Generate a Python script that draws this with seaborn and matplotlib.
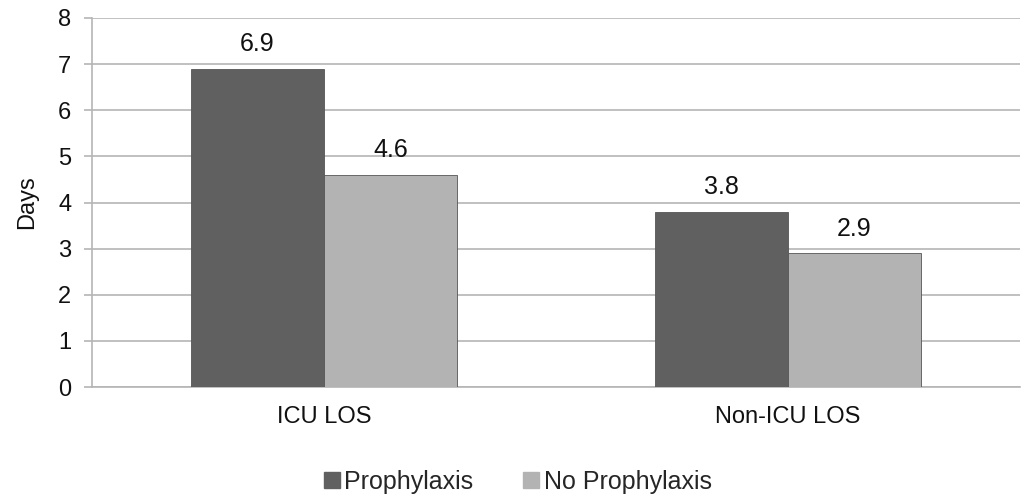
import matplotlib
matplotlib.use("Agg")
import matplotlib.pyplot as plt
import seaborn as sns
import pandas as pd
from matplotlib.lines import Line2D

categories = ["ICU LOS", "Non-ICU LOS"]
series_names = ["Prophylaxis", "No Prophylaxis"]
prophylaxis = [6.9, 3.8]
no_prophylaxis = [4.6, 2.9]
y_ticks = [0, 1, 2, 3, 4, 5, 6, 7, 8]
colors = ["#606060", "#b3b3b3"]

df = pd.DataFrame({
    "Category": categories * 2,
    "Series": [series_names[0]] * 2 + [series_names[1]] * 2,
    "Days": prophylaxis + no_prophylaxis,
})

sns.set_theme(style="white")
plt.rcParams["font.family"] = ["Liberation Sans", "DejaVu Sans"]

fig = plt.figure(figsize=(10.31, 4.97), dpi=100)
ax = fig.add_axes([0.0892, 0.2213, 0.8998, 0.7425])

sns.barplot(data=df, x="Category", y="Days", hue="Series", order=categories,
            hue_order=series_names, palette=colors, width=0.574, ax=ax,
            edgecolor="#555555", linewidth=0.6, legend=False, zorder=3)

for c in ax.containers:
    ax.bar_label(c, labels=[f"{v:.1f}" for v in c.datavalues], padding=9,
                 fontsize=18, color="#111111")

ax.set_xlim(-0.5, 1.5)
ax.set_ylim(0, 8)
ax.set_yticks(y_ticks)
ax.yaxis.grid(True, color="#b5b5b5", linewidth=1.2, zorder=0)
ax.set_axisbelow(True)
ax.tick_params(axis="y", left=True, length=6, width=1.2, color="#b5b5b5",
               labelsize=17, pad=9, labelcolor="#111111")
ax.tick_params(axis="x", bottom=False, labelsize=17, pad=8, labelcolor="#111111")
for s in ["top", "right"]:
    ax.spines[s].set_visible(False)
for s in ["left", "bottom"]:
    ax.spines[s].set_color("#b5b5b5")
    ax.spines[s].set_linewidth(1.2)
ax.set_xlabel("")
ax.set_ylabel("Days", fontsize=17, color="#111111", labelpad=14)

handles = [Line2D([0], [0], marker="s", linestyle="", markersize=12,
                  markerfacecolor=col, markeredgecolor=col) for col in colors]
fig.legend(handles, series_names, loc="center", bbox_to_anchor=(0.5, 0.03),
           ncol=2, frameon=False, fontsize=18, handletextpad=0.0,
           columnspacing=1.8, handlelength=1.0)

fig.savefig("out.png", dpi=100)
